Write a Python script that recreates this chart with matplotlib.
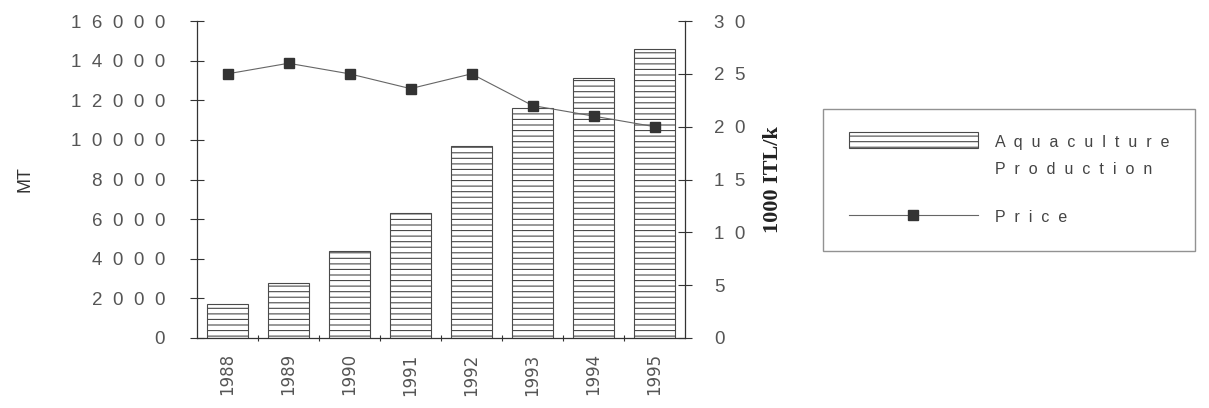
import matplotlib.pyplot as plt
from matplotlib.ticker import FixedLocator
from matplotlib.patches import Rectangle
from matplotlib.legend_handler import HandlerPatch

years = ['1988', '1989', '1990', '1991', '1992', '1993', '1994', '1995']
production_mt = [1700, 2800, 4400, 6300, 9700, 11600, 13100, 14600]
price_k_itl = [25, 26, 25, 23.6, 25, 22, 21, 20]

left_ticks = [0, 2000, 4000, 6000, 8000, 10000, 12000, 14000, 16000]
right_ticks = [0, 5, 10, 15, 20, 25, 30]


def spaced(s):
    # old typewriter-style letter spacing
    return '  '.join(str(s))


plt.rcParams['hatch.linewidth'] = 0.8
grey = '#555555'
sans = 'Liberation Sans'

fig = plt.figure(figsize=(12.09, 4.08), dpi=100)
ax = fig.add_axes([197 / 1209, 70 / 408, 488 / 1209, 317 / 408])
x = range(len(years))

bars = ax.bar(x, production_mt, width=0.66, color='white', edgecolor='#4a4a4a',
              linewidth=0.8, hatch='---')
ax.set_xlim(-0.5, len(years) - 0.5)
ax.set_ylim(0, 16000)

for side in ['top', 'right']:
    ax.spines[side].set_visible(False)
for side in ['left', 'bottom']:
    ax.spines[side].set_color('#333333')
    ax.spines[side].set_linewidth(0.9)

ax.yaxis.set_major_locator(FixedLocator(left_ticks))
ax.set_yticklabels([spaced(v) for v in left_ticks], family=sans)
ax.tick_params(axis='y', direction='inout', length=10, width=0.8, color='#333333',
               labelsize=13.5, labelcolor=grey, pad=18)

ax.set_xticks(list(x))
ax.set_xticklabels(years, rotation=90)
ax.tick_params(axis='x', length=0, labelsize=12, labelcolor=grey, pad=11)
ax.set_xticks([i + 0.5 for i in x][:-1], minor=True)
ax.tick_params(axis='x', which='minor', direction='inout', length=4, width=0.8,
               color='#333333')

ax.set_ylabel('MT', fontsize=13, color='#333333', family=sans)
ax.yaxis.set_label_coords(-0.336, 0.5)

ax2 = ax.twinx()
ax2.set_ylim(0, 30)
for side in ['top', 'left', 'bottom']:
    ax2.spines[side].set_visible(False)
ax2.spines['right'].set_color('#333333')
ax2.spines['right'].set_linewidth(0.9)
ax2.yaxis.set_major_locator(FixedLocator(right_ticks))
ax2.set_yticklabels([spaced(v) for v in right_ticks], family=sans)
ax2.tick_params(axis='y', direction='inout', length=10, width=0.8, color='#333333',
                labelsize=13.5, labelcolor=grey, pad=16)

line, = ax2.plot(x, price_k_itl, color='#666666', linewidth=0.8, marker='s',
                 markersize=7, markerfacecolor='#333333', markeredgecolor='#333333')

ax2.set_ylabel('1000 ITL/k', family='Liberation Serif', fontweight='bold', fontsize=16,
               color='#222222')
ax2.yaxis.set_label_coords(1.160, 0.5)


# legend swatch sits beside the first line of a two-line label
def top_patch(legend, orig_handle, xdescent, ydescent, width, height, fontsize):
    return Rectangle((-xdescent, -ydescent + 1.0 * fontsize), width, height)


leg = fig.legend([bars.patches[0], line],
                 [spaced('Aquaculture') + '\n' + spaced('Production'), spaced('Price')],
                 loc='upper left', bbox_to_anchor=(823 / 1209, 1 - 109 / 408),
                 borderaxespad=0, prop={'family': sans, 'size': 11.5}, frameon=True,
                 fancybox=False, edgecolor='#777777', handlelength=8.1, handleheight=1.2,
                 handletextpad=1.05, borderpad=1.6, labelspacing=2.0, numpoints=1,
                 handler_map={Rectangle: HandlerPatch(patch_func=top_patch)})
leg.get_frame().set_linewidth(1.0)
for t in leg.get_texts():
    t.set_color('#444444')
    t.set_linespacing(2.0)

fig.savefig('out.png', dpi=100)
